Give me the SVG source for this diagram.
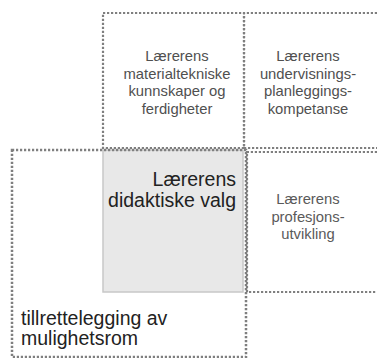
<svg xmlns="http://www.w3.org/2000/svg" width="377" height="358" viewBox="0 0 377 358">
<style>
.dot{fill:none;stroke:#7f7f7f;stroke-width:2.2;stroke-dasharray:2.2 1.8}
.sm{font-family:"Liberation Sans",Arial,sans-serif;font-size:14.8px;fill:#505050;text-anchor:middle}
.lg{font-family:"Liberation Sans",Arial,sans-serif;font-size:19.5px;fill:#222}
</style>
<rect width="377" height="358" fill="#fff"/>
<g id="box-didaktiske">
<rect x="103" y="150" width="140" height="142" fill="#e8e8e8" stroke="#c8c8c8" stroke-width="1.5"/>
<text class="lg" text-anchor="end"><tspan x="236" y="186">Lærerens</tspan><tspan x="236" y="207">didaktiske valg</tspan></text>
</g>
<g id="box-materialtekniske">
<rect class="dot" x="103" y="13" width="141" height="135"/>
<text class="sm"><tspan x="177" y="61">Lærerens</tspan><tspan x="177" y="78.5">materialtekniske</tspan><tspan x="177" y="96">kunnskaper og</tspan><tspan x="177" y="113.5">ferdigheter</tspan></text>
</g>
<g id="box-undervisning">
<path class="dot" d="M377 13 H244 V148 H377"/>
<text class="sm"><tspan x="308" y="61">Lærerens</tspan><tspan x="308" y="78.5">undervisnings-</tspan><tspan x="308" y="96">planleggings-</tspan><tspan x="308" y="113.5">kompetanse</tspan></text>
</g>
<g id="box-profesjon">
<path class="dot" d="M377 152 H247 V292 H377"/>
<text class="sm" style="fill:#5a5a5a"><tspan x="308" y="204">Lærerens</tspan><tspan x="308" y="221.5">profesjons-</tspan><tspan x="308" y="239">utvikling</tspan></text>
</g>
<g id="box-mulighetsrom">
<rect class="dot" x="12" y="150" width="234" height="207" style="stroke-width:2.5"/>
<text class="lg"><tspan x="21" y="325">tillrettelegging av</tspan><tspan x="21" y="345">mulighetsrom</tspan></text>
</g>
<g id="connectors"/>
</svg>
